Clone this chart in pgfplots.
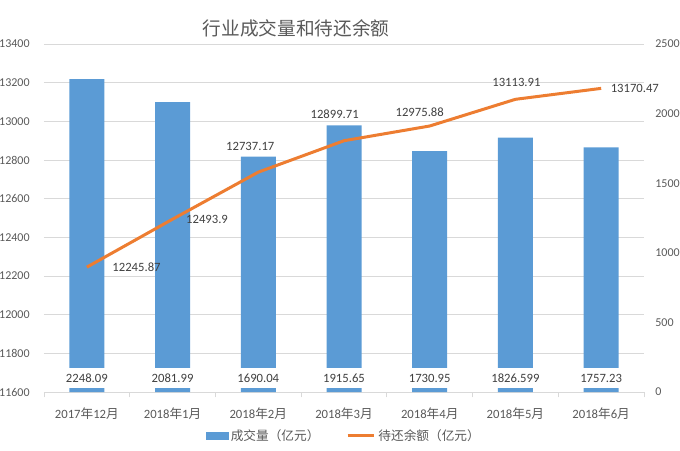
\documentclass[border=0pt]{standalone}
\usepackage{fontspec}
\setmainfont{Carlito}
\newfontfamily\cjk{Noto Sans CJK SC}
\usepackage{pgfplots}
\usepackage{pgfplotstable}
\pgfplotsset{compat=1.18}
\definecolor{barblue}{HTML}{5B9BD5}
\definecolor{lineorange}{HTML}{ED7D31}
\definecolor{txtgray}{HTML}{595959}
\definecolor{gridgray}{HTML}{D9D9D9}
\definecolor{lbl}{HTML}{404040}

\pgfplotstableread{
x vol bal volstr
0 2248.09 12245.87 2248.09
1 2081.99 12493.9 2081.99
2 1690.04 12737.17 1690.04
3 1915.65 12899.71 1915.65
4 1730.95 12975.88 1730.95
5 1826.599 13113.91 1826.599
6 1757.23 13170.47 1757.23
}\datatab

\pgfplotsset{
  linelbl/.style n args={3}{draw=none, mark=none, forget plot, nodes near coords, point meta=explicit symbolic,
    every node near coord/.append style={anchor=#1, xshift=#2, yshift=#3, inner sep=1pt,
      font=\fontsize{9.5}{10}\selectfont, text=lbl}},
}

\begin{document}
\begin{tikzpicture}
\useasboundingbox (-33pt,-43.5pt) rectangle (477pt,294pt);
\pgfplotsset{
  every axis/.append style={
    scale only axis, width=450pt, height=261pt,
    xmin=-0.5, xmax=6.5,
    scaled y ticks=false,
    tick label style={font=\fontsize{9}{10}\selectfont, text=txtgray},
    /pgf/number format/assume math mode=true,
    /pgf/number format/.cd, fixed, 1000 sep={},
  },
}
% Axis A: grid, left ticks, x labels
\begin{axis}[
  ymin=11600, ymax=13400, ytick distance=200,
  axis x line*=bottom, axis y line*=left,
  y axis line style={draw=none},
  x axis line style={draw=gridgray, -},
  ymajorgrids, grid style={gridgray, line width=0.6pt},
  major y tick style={draw=none},
  xtick={0,...,6},
  xticklabels={2017{\cjk 年}12{\cjk 月},2018{\cjk 年}1{\cjk 月},2018{\cjk 年}2{\cjk 月},2018{\cjk 年}3{\cjk 月},2018{\cjk 年}4{\cjk 月},2018{\cjk 年}5{\cjk 月},2018{\cjk 年}6{\cjk 月}},
  xticklabel style={font=\fontsize{9.5}{10}\selectfont, yshift=-4pt},
  major x tick style={draw=none},
  minor xtick={-0.5,0.5,...,6.5},
  minor x tick style={draw=gridgray, line width=0.6pt},
  minor tick length=4pt, tick align=outside,
  yticklabel style={xshift=-3pt},
]
\addplot[draw=none] coordinates {(0,12000)};
\end{axis}
% Axis B: bars, right ticks
\begin{axis}[
  ymin=0, ymax=2500, ytick distance=500,
  axis y line*=right, axis x line=none,
  y axis line style={draw=none},
  major y tick style={draw=none},
  yticklabel style={xshift=5pt},
]
\addplot[ybar, bar width=26.25pt, fill=barblue, draw=none] table[x=x, y=vol] {\datatab};
\addplot[draw=none, mark=none, nodes near coords, point meta=explicit symbolic,
  every node near coord/.append style={anchor=center, fill=white, inner sep=1pt,
    minimum height=14.5pt, minimum width=30pt, font=\fontsize{9.5}{10}\selectfont, text=lbl}]
  table[x=x, y expr=100, meta=volstr] {\datatab};
\end{axis}
% Axis C: line
\begin{axis}[
  ymin=11600, ymax=13400, hide axis,
  legend columns=2,
  legend style={at={(0.5,-0.126)}, anchor=center, draw=none, fill=none,
    font=\fontsize{9.5}{10}\selectfont, text=txtgray,
    /tikz/every even column/.append style={column sep=18pt}},
]
\addlegendimage{area legend, legend image code/.code={\fill[barblue] (0pt,-2.5pt) rectangle (16.5pt,2.5pt);}}
\addlegendentry{\cjk 成交量（亿元）}
\addlegendimage{legend image code/.code={\draw[lineorange, line width=2.25pt] (0pt,0pt) -- (20pt,0pt);}}
\addlegendentry{\cjk 待还余额（亿元）}
\addplot[forget plot, lineorange, line width=2.25pt, mark=none] table[x=x, y=bal] {\datatab};
\addplot[linelbl={west}{18pt}{0pt}] coordinates {(0,12245.87)[12245.87]};
\addplot[linelbl={west}{9pt}{0pt}] coordinates {(1,12493.9)[12493.9]};
\addplot[linelbl={center}{-6pt}{19pt}] coordinates {(2,12737.17)[12737.17]};
\addplot[linelbl={center}{-7pt}{20pt}] coordinates {(3,12899.71)[12899.71]};
\addplot[linelbl={center}{-7.5pt}{10.5pt}] coordinates {(4,12975.88)[12975.88]};
\addplot[linelbl={center}{0.75pt}{13pt}] coordinates {(5,13113.91)[13113.91]};
\addplot[linelbl={west}{6pt}{0pt}] coordinates {(6,13170.47)[13170.47]};
\end{axis}
\node[font=\cjk\fontsize{14}{16}\selectfont, text=txtgray] at (189pt,273pt) {行业成交量和待还余额};
\end{tikzpicture}
\end{document}
